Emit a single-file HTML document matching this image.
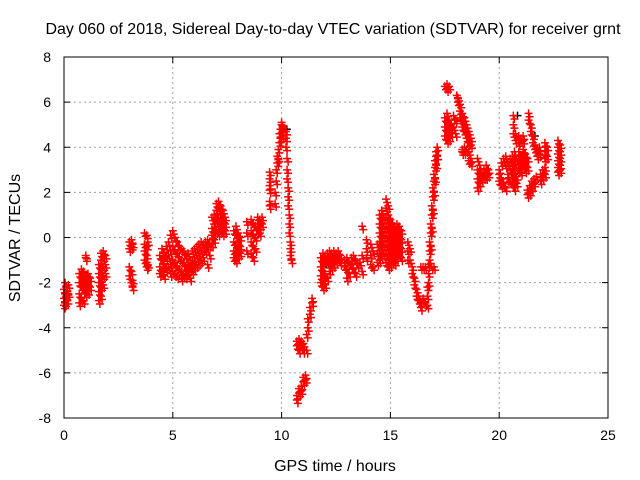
<!DOCTYPE html>
<html><head><meta charset="utf-8"><style>
body{margin:0;background:#fff}
svg{display:block;font-family:"Liberation Sans",sans-serif}
</style></head><body>
<svg id="chart" width="640" height="480" viewBox="0 0 640 480">
<text x="333" y="34" font-size="16" text-anchor="middle">Day 060 of 2018, Sidereal Day-to-day VTEC variation (SDTVAR) for receiver grnt</text>
<text x="335" y="471" font-size="16" text-anchor="middle">GPS time / hours</text>
<text transform="translate(20,238) rotate(-90)" font-size="16" text-anchor="middle">SDTVAR / TECUs</text>
<g id="grid"></g>
<g id="ticks"></g>
<g id="marks"></g>
<rect x="64" y="57" width="544" height="361" fill="none" stroke="#000" stroke-width="1"/>
</svg>
<script>
const xTicks=[0,5,10,15,20,25];
const yTicks=[-8,-6,-4,-2,0,2,4,6,8];
const blackPoints=[[0.1,-2.6],[1.0,-1.8],[10.2,4.7],[10.8,-4.9],[12.0,-1.3],[14.9,0.3],[17.6,5.0],[18.5,4.6],[20.8,5.3],[21.6,4.4],[22.7,3.3]];
const redRows=[
[0.0,-2.3,-2.7,-3.0],[0.05,-2.0,-2.5,-2.9],[0.1,-2.2,-2.6],[0.15,-2.4,-2.8],[0.2,-2.1,-2.5],
[0.7,-1.6,-2.0,-2.5,-2.9],[0.8,-1.4,-1.8,-2.2,-2.7],[0.9,-1.5,-1.9,-2.3,-2.8],[1.0,-0.8,-0.9,-1.7,-2.1,-2.5],[1.1,-1.6,-2.0,-2.4],[1.2,-1.8,-2.2],
[1.6,-1.2,-1.6,-2.0,-2.4,-2.8],[1.7,-0.7,-1.0,-1.4,-1.8,-2.2,-2.6],[1.8,-0.6,-0.9,-1.3,-1.7,-2.1],[1.9,-0.8,-1.2,-1.6],
[3.0,-0.2,-0.5,-1.3,-1.7],[3.1,-0.1,-0.4,-1.5,-2.0],[3.15,-0.3,-1.9,-2.2],
[3.7,0.2,-0.3,-0.6,-1.0],[3.8,0.1,-0.4,-0.8,-1.1,-1.3],[3.85,-0.2,-1.2],
[4.4,-0.8,-1.3,-1.6],[4.5,-0.5,-1.0,-1.5],[4.6,-0.7,-1.2,-1.7],[4.7,-0.4,-0.9,-1.4],[4.8,-0.2,-0.8,-1.3],[4.9,0.1,-0.6,-1.2,-1.6],[5.0,0.3,-0.4,-1.0,-1.5],[5.1,0.0,-0.6,-1.1,-1.6],[5.2,-0.2,-0.7,-1.3,-1.7],[5.3,-0.4,-0.9,-1.4],[5.4,-0.5,-1.0,-1.5,-1.8],[5.5,-0.6,-1.1,-1.6],[5.6,-0.8,-1.3,-1.7],[5.7,-0.7,-1.2,-1.5],[5.8,-1.0,-1.4,-1.8],[5.9,-0.6,-1.1,-1.5],[6.0,-0.5,-0.9,-1.3],[6.1,-0.4,-0.8,-1.2],[6.2,-0.3,-0.7,-1.1],[6.3,-0.2,-0.6,-1.0],[6.4,-0.3,-0.5,-0.9],[6.5,-0.2,-0.6],[6.6,-0.1,-0.4,-1.2],[6.7,-0.3,-0.8],
[6.8,0.9,0.4,0.1,-0.3],[6.9,1.0,0.6,0.2,-0.1],[7.0,1.5,1.2,0.8,0.3],[7.1,1.6,1.3,0.9,0.5,0.2],[7.2,1.4,1.0,0.7,0.3],[7.3,1.2,0.8,0.5,0.2],[7.4,0.9,0.6,0.3],
[7.8,0.3,-0.2,-0.6,-0.9],[7.9,0.5,0.1,-0.3,-0.7,-1.0],[8.0,0.2,-0.2,-0.5,-0.8],[8.1,0.0,-0.4,-0.7],[8.4,0.7,0.2,-0.6],
[8.6,0.8,0.3,-0.2,-0.7],[8.7,0.6,0.1,-0.4,-0.9],[8.8,0.5,0.0,-0.5],[8.9,0.9,0.6,0.3],[9.0,0.8,0.5,0.2],[9.1,0.9,0.6],
[9.45,2.9,2.6,2.3,2.1,1.6,1.4],
[9.7,1.5,2.0],[9.75,2.5,3.0],[9.8,3.3,3.6],[9.85,3.9,3.5],[9.9,4.2,4.6],[9.95,4.8,4.4],[10.0,5.0,5.1],[10.05,4.9,4.5],
[10.2,4.7,4.4,4.0],[10.25,3.5,3.0,2.6],[10.3,2.2,1.8,1.4],[10.35,1.0,0.6,0.2],[10.4,-0.2,-0.5,-0.8],[10.45,-1.0],
[10.7,-4.6,-4.8],[10.8,-4.5,-4.7,-5.0],[10.9,-4.6,-4.8],[11.0,-4.7,-5.0],
[10.7,-7.2,-7.0],[10.8,-6.9,-6.7],[10.9,-6.6,-6.8],[11.0,-6.4,-6.2],[11.1,-6.1,-6.3],
[11.15,-5.0,-4.3],[11.2,-4.0,-3.6],[11.3,-3.4,-3.1],[11.4,-2.9,-2.7],
[11.8,-0.9,-1.3,-1.7,-2.0],[11.9,-0.7,-1.1,-1.5,-1.9,-2.2],[12.0,-0.8,-1.6,-2.1],[12.1,-0.7,-1.0,-1.8],[12.2,-0.6,-0.9,-1.2,-1.5],[12.3,-0.7,-1.0,-1.3],[12.4,-0.6,-0.9,-1.2],[12.5,-0.7,-1.0],[12.6,-0.6,-0.9],[12.7,-0.8,-1.1],
[12.9,-1.0,-1.3],[13.0,-0.9,-1.4,-1.8],[13.1,-1.1,-1.6],[13.2,-1.2,-0.9],[13.3,-0.8,-1.4],[13.4,-1.0,-1.6],[13.5,-1.2],[13.6,-1.1],[13.7,0.5,-0.8,-1.5],
[13.9,-0.1,-0.5,-0.9],[14.1,-0.3,-0.8,-1.2],[14.2,-0.6,-1.3],
[14.4,-0.3,-0.7,-1.1],[14.5,1.0,0.6,0.2,-0.2,-0.6,-1.0],[14.6,1.2,0.8,0.4,0,-0.4,-0.8],[14.7,0.9,0.5,0.1,-0.3,-0.7],[14.8,1.7,1.3,0.9,0.5,0.1,-0.3,-0.7,-1.1],[14.9,1.4,1.0,0.6,0.2,-0.2,-0.6,-1.0,-1.3],[15.0,0.8,0.4,0.0,-0.4,-0.8,-1.2],[15.1,0.6,0.2,-0.2,-0.6,-1.0],[15.2,0.4,0.0,-0.4,-0.8,-1.1],[15.3,0.6,0.3,-0.1,-0.5,-0.9],[15.4,0.5,0.1,-0.3,-0.7],[15.5,0.3,-0.1,-0.5,-0.9],
[15.8,-0.2,-0.6,-1.0],[15.9,-0.5,-1.0],[16.0,-1.3,-1.6],[16.1,-1.8,-2.1],[16.2,-2.3,-2.6],[16.3,-2.6,-2.8],[16.4,-2.9,-3.1,-1.3],[16.5,-2.7,-1.3],[16.6,-1.3,-2.9],[16.9,-1.3],[17.0,-1.3],
[16.7,-3.0,-2.6,-2.2],[16.75,-2.0,-1.6,-1.2],[16.8,-1.0,-0.6,-0.2],[16.85,0.2,0.6,-0.4],[16.9,1.0,1.4,0.4],[16.95,1.8,2.2,1.2],[17.0,2.5,2.8,2.0],[17.05,3.1,3.4,2.6],[17.1,3.6,3.8,3.2],[17.15,4.0,3.6],
[17.5,5.3,4.9,4.5],[17.6,5.5,5.1,4.7,4.3],[17.7,5.2,4.8,4.4],[17.8,5.0,4.6],[17.9,5.4,4.9],[18.0,5.2,4.6],
[17.5,6.7],[17.6,6.8,6.6],[17.7,6.7],
[18.05,6.3],[18.1,6.2,6.0],[18.2,5.9,5.6,5.3],[18.3,5.5,5.2,4.9],[18.4,5.3,5.0,4.7],[18.5,5.0,4.7,4.4],[18.6,4.7,4.4,4.2],[18.7,4.4,4.1],
[18.3,3.9,3.8],[18.4,4.0,3.8],[18.5,3.9],[18.6,3.8,3.4],[18.7,3.3,3.5],
[19.0,3.5,3.0,2.6,2.2],[19.1,3.2,2.8,2.4],[19.2,2.8,2.6],[19.3,3.0,2.7],[19.4,3.2,2.9,2.7],[19.5,3.0,2.8],
[20.0,3.0,2.8,2.5],[20.1,3.3,2.6,2.3],[20.2,3.5,2.4],[20.3,3.6,3.2,2.2],[20.4,3.3,2.8,2.6],[20.5,3.5,3.0,2.5],[20.6,3.6,3.2,2.8,2.4],[20.7,3.8,3.4,3.0,2.6,2.2],[20.8,3.5,3.1,2.7,2.4],[20.9,3.8,3.4,3.0],[21.0,3.6,3.2,2.9],[21.1,3.9,3.5,3.2],[21.2,3.7,3.3,3.0],[21.3,3.5,3.1],
[20.65,5.4,5.0,4.6],[20.75,4.6,4.3],[20.9,4.5,4.2],[21.0,4.4],[21.1,4.5,4.3],
[21.35,5.5,5.2],[21.45,5.0,4.7],[21.55,4.5,4.2],[21.65,4.1,3.9],[21.75,3.8,3.6],[21.85,4.0,3.7],
[21.3,1.9,2.1],[21.4,2.0,2.3],[21.5,2.2,2.5],[21.6,2.4,2.6],[21.7,2.7],[21.9,2.5,2.8],[22.0,2.7,3.0],[22.1,2.8,3.1],
[22.1,4.2,3.8,3.5],[22.2,4.0,3.6],
[22.7,4.3,4.0,3.7,3.4,3.1,2.9],[22.8,4.1,3.8,3.5,3.2,3.0]
];
const NS='http://www.w3.org/2000/svg';
const X0=64,X1=608,Y0=418,Y1=57;
function sx(t){return X0+(t-0)/(25-0)*(X1-X0);}
function sy(v){return Y0-(v+8)/16*(Y0-Y1);}
const grid=document.getElementById('grid'),ticks=document.getElementById('ticks'),marks=document.getElementById('marks');
function mk(tag,attrs,parent){const e=document.createElementNS(NS,tag);for(const k in attrs)e.setAttribute(k,attrs[k]);parent.appendChild(e);return e;}
xTicks.forEach(t=>{
  const x=sx(t);
  if(t>0&&t<25){const g=mk('line',{x1:x,x2:x,y1:Y1,y2:Y0,stroke:'#a0a0a0','stroke-dasharray':'2,3'},grid);
  
  }
  mk('line',{x1:x,x2:x,y1:Y0,y2:Y0-6,stroke:'#000'},ticks);
  mk('line',{x1:x,x2:x,y1:Y1,y2:Y1+6,stroke:'#000'},ticks);
  const l=mk('text',{x:x,y:Y0+22,'font-size':14,'text-anchor':'middle'},ticks);
  l.textContent=t;
  
  
});
yTicks.forEach(v=>{
  const y=sy(v);
  if(v>-8&&v<8){const g=mk('line',{x1:X0,x2:X1,y1:y,y2:y,stroke:'#a0a0a0','stroke-dasharray':'2,3'},grid);
  
  }
  mk('line',{x1:X0,x2:X0+6,y1:y,y2:y,stroke:'#000'},ticks);
  mk('line',{x1:X1,x2:X1-6,y1:y,y2:y,stroke:'#000'},ticks);
  const l=mk('text',{x:X0-13,y:y+5,'font-size':14,'text-anchor':'end'},ticks);
  l.textContent=v;
  
  
});
function plus(t,v,color){
  const x=sx(t),y=sy(v);
  const p=mk('path',{d:`M${x-4},${y}h8M${x},${y-4}v8`,stroke:color,'stroke-width':1.5,fill:'none'},marks);
  
  
}
blackPoints.forEach(p=>plus(p[0]+0.04,p[1]+0.1,'#000'));
redRows.forEach(r=>{for(let i=1;i<r.length;i++){plus(r[0],r[i],'#ff0000');plus(r[0]+0.05,r[i]-0.15,'#ff0000');}});
</script>
</body></html>
